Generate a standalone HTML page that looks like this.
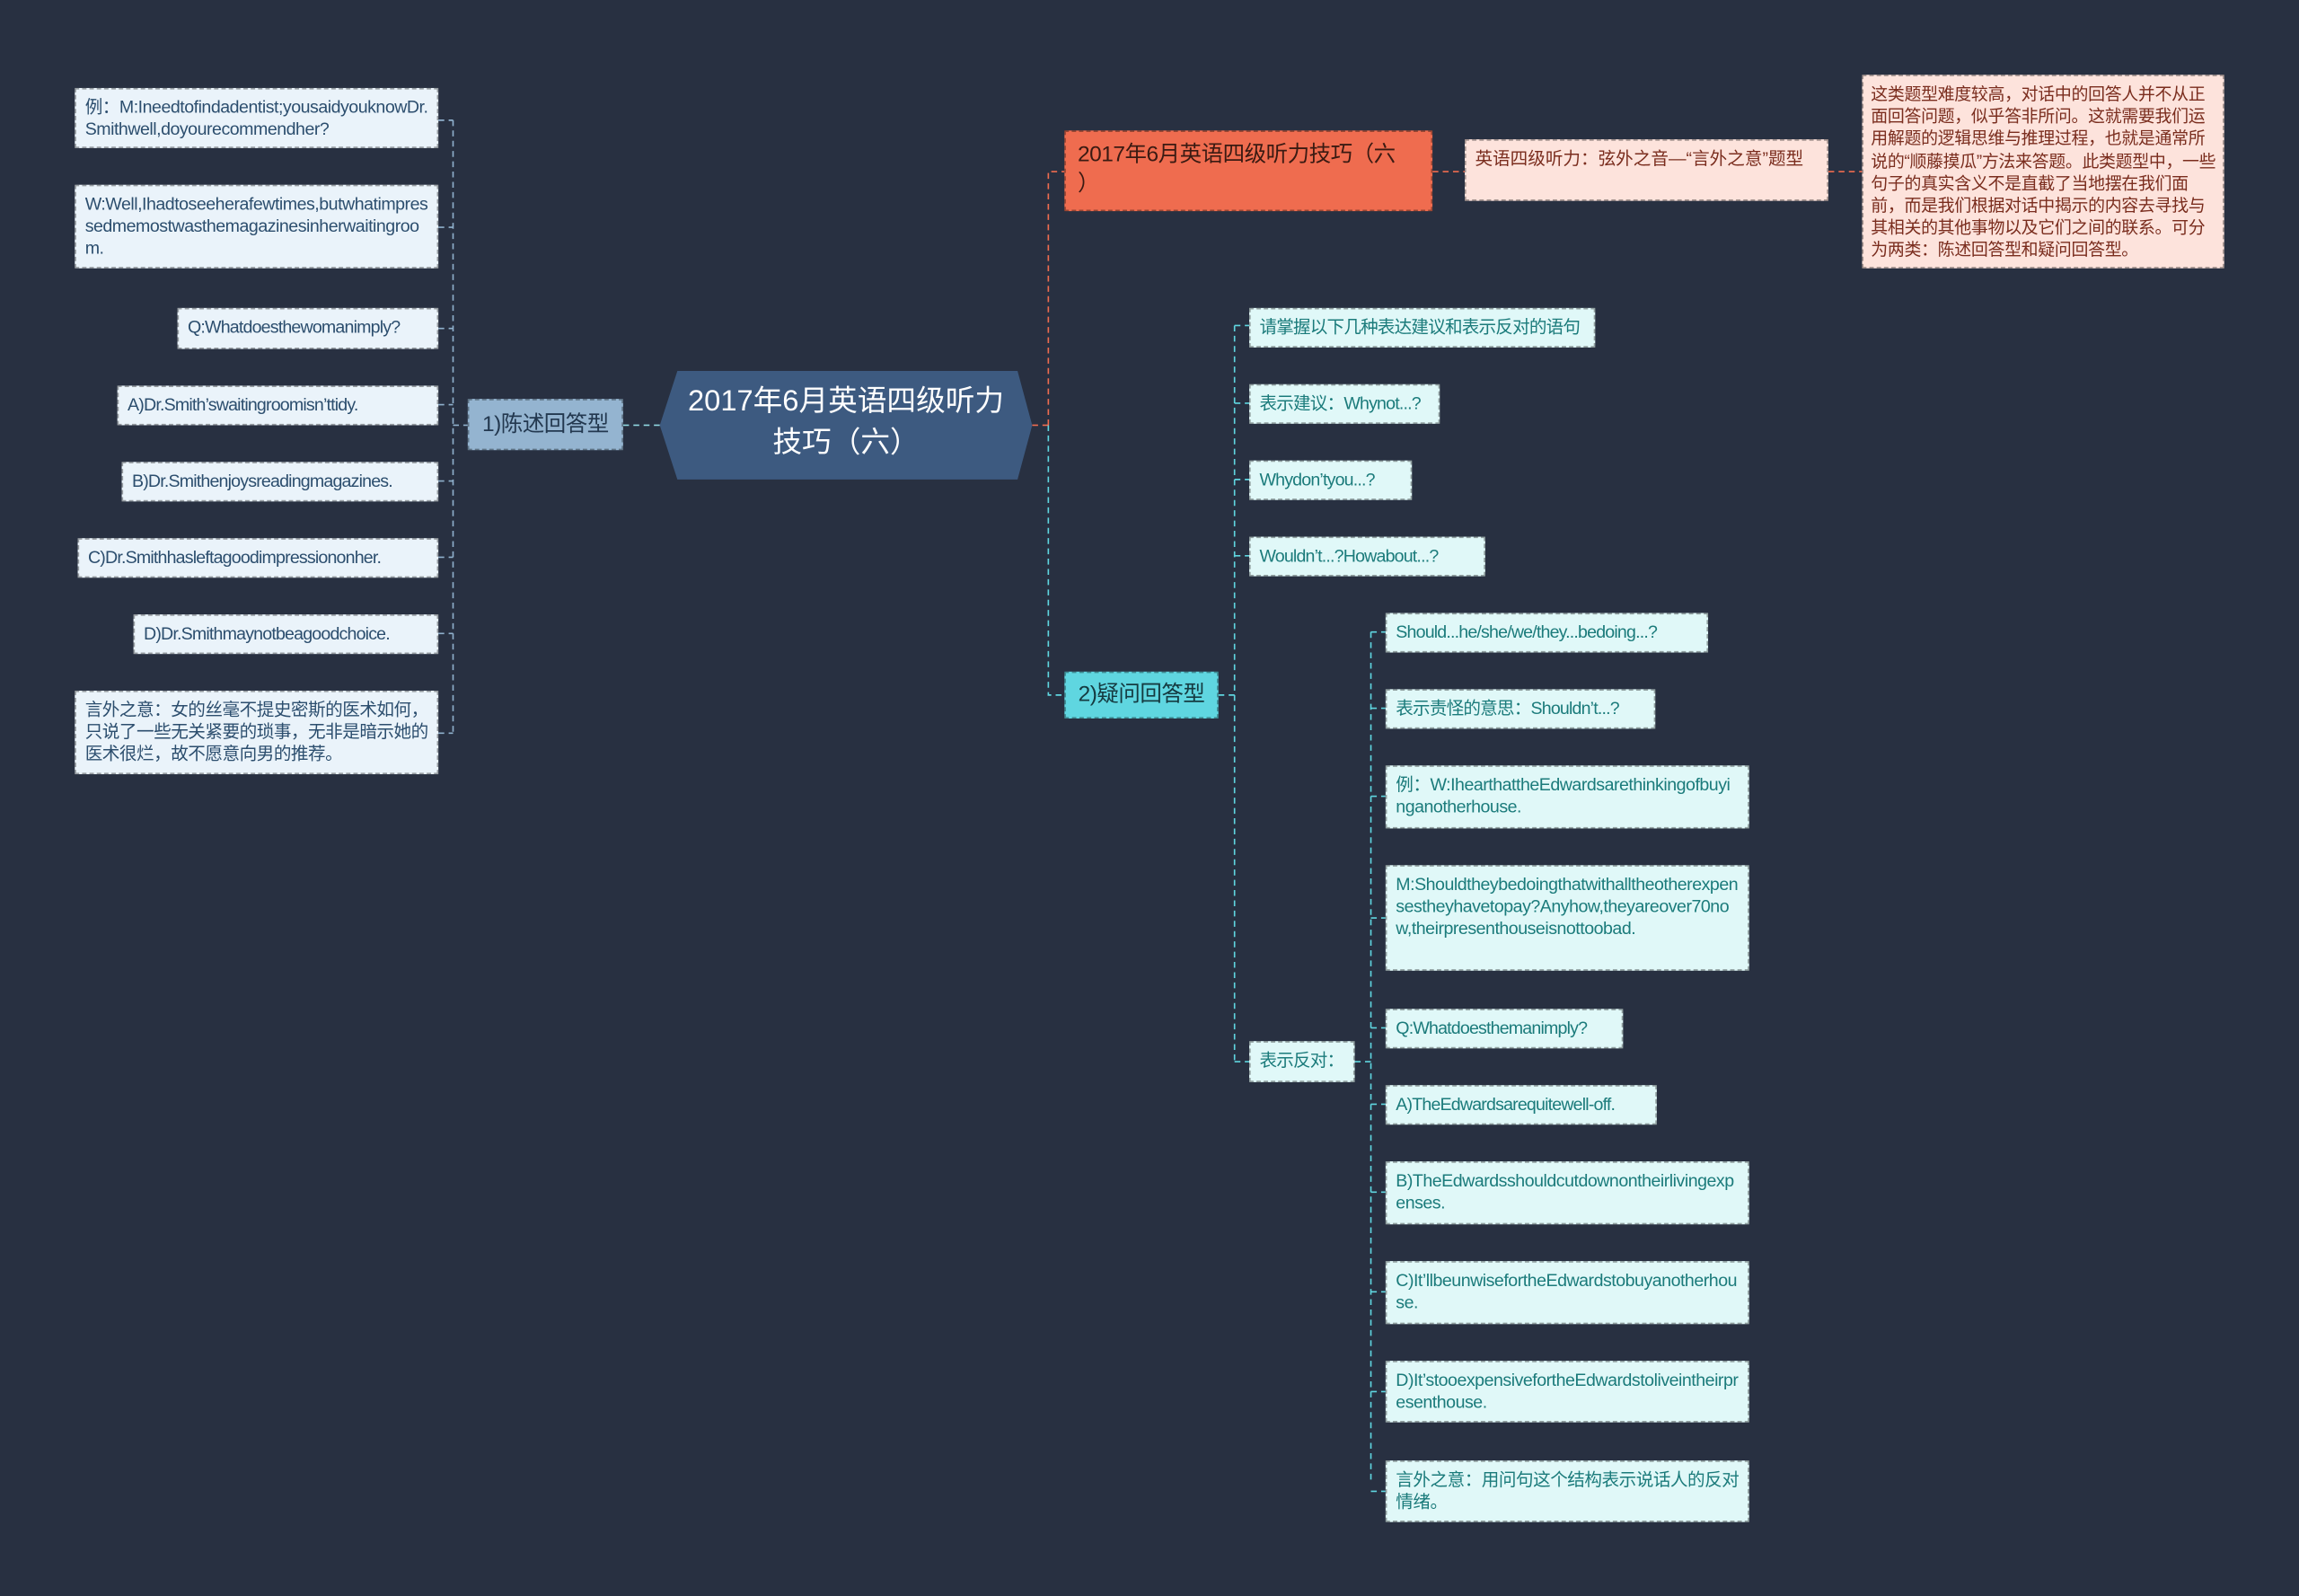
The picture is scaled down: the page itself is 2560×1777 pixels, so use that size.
<!DOCTYPE html>
<html><head><meta charset="utf-8"><style>
html,body{margin:0;padding:0;background:#283041;}
#w{position:absolute;left:0;top:0;width:1568px;height:1088px;transform:scale(1.63265);transform-origin:0 0;font-family:"Liberation Sans","Noto Sans CJK SC",sans-serif;}
.n{position:absolute;box-sizing:border-box;font-size:12px;line-height:15px;padding:5px 6px;border:1px dashed rgba(0,0,0,0.35);word-break:break-all;letter-spacing:-0.3px}
.s{white-space:nowrap;letter-spacing:-0.5px;padding:5px 4px 5px 6px}
.l{background:#eaf3fa;color:#2c4e6e}
.t{background:#e0f8f8;color:#1b7b7b}
.p{background:#fde3dc;color:#7a2d1e}
svg{position:absolute;left:0;top:0}
</style></head><body><div id="w">
<svg width="1568" height="1088" fill="none" stroke-dasharray="4,3" stroke-width="1">
<g stroke="#8fb0cc">
<path d="M309 82V500M299 82H309M299 155H309M299 224H309M299 276H309M299 328H309M299 380H309M299 432H309M299 500H309M309 290H319"/>
</g>
<path d="M425 290H450" stroke="#8fd6e0"/>
<path d="M704 290H715M715 290V117H726M977 117H999M1247 117H1270" stroke="#ef6c4f"/>
<path d="M715 290V474H726" stroke="#5fd6e0"/>
<g stroke="#5fd6e0">
<path d="M831 474H842M842 222V724M842 222H852M842 275H852M842 327H852M842 379H852M842 724H852M924 724H935M935 431V1010M935 431H945M935 483H945M935 543H945M935 626H945M935 701H945M935 753H945M935 813H945M935 881H945M935 949H945M935 1017H945"/>
</g>
</svg>
<svg width="1568" height="1088"><polygon points="462,253 694,253 704,290 694,327 462,327 450,290" fill="#3d5a80"/></svg>
<div style="position:absolute;left:450px;top:260px;width:254px;text-align:center;color:#fff;font-size:20px;line-height:28px">2017年6月英语四级听力<br>技巧（六）</div>
<div class="n" style="left:319px;top:272px;width:106px;height:35px;background:#94b4d0;color:#23384f;font-size:15px;line-height:23px;text-align:center;white-space:nowrap;padding:5px 2px">1)陈述回答型</div>
<div class="n l" style="left:51px;top:60px;width:248px;height:41px">例：M:Ineedtofindadentist;yousaidyouknowDr.Smithwell,doyourecommendher?</div>
<div class="n l" style="left:51px;top:126px;width:248px;height:57px">W:Well,Ihadtoseeherafewtimes,butwhatimpressedmemostwasthemagazinesinherwaitingroom.</div>
<div class="n l s" style="left:121px;top:210px;width:178px;height:28px">Q:Whatdoesthewomanimply?</div>
<div class="n l s" style="left:80px;top:263px;width:219px;height:27px">A)Dr.Smith’swaitingroomisn’ttidy.</div>
<div class="n l s" style="left:83px;top:315px;width:216px;height:27px">B)Dr.Smithenjoysreadingmagazines.</div>
<div class="n l s" style="left:53px;top:367px;width:246px;height:27px">C)Dr.Smithhasleftagoodimpressiononher.</div>
<div class="n l s" style="left:91px;top:419px;width:208px;height:27px">D)Dr.Smithmaynotbeagoodchoice.</div>
<div class="n l" style="left:51px;top:471px;width:248px;height:57px">言外之意：女的丝毫不提史密斯的医术如何，只说了一些无关紧要的琐事，无非是暗示她的医术很烂，故不愿意向男的推荐。</div>
<div class="n" style="left:726px;top:89px;width:251px;height:55px;background:#ef6c4f;color:#3a1a12;font-size:15px;line-height:20px;padding:6px 8px">2017年6月英语四级听力技巧（六<br>）</div>
<div class="n p" style="left:999px;top:95px;width:248px;height:42px;letter-spacing:0">英语四级听力：弦外之音—“言外之意”题型</div>
<div class="n p" style="left:1270px;top:51px;width:247px;height:132px;font-size:11.6px;line-height:15.2px;letter-spacing:-0.2px;padding:5px 4px 4px 5px">这类题型难度较高，对话中的回答人并不从正面回答问题，似乎答非所问。这就需要我们运用解题的逻辑思维与推理过程，也就是通常所说的“顺藤摸瓜”方法来答题。此类题型中，一些句子的真实含义不是直截了当地摆在我们面前，而是我们根据对话中揭示的内容去寻找与其相关的其他事物以及它们之间的联系。可分为两类：陈述回答型和疑问回答型。</div>
<div class="n" style="left:726px;top:458px;width:105px;height:32px;background:#5fd6e0;color:#153a40;font-size:15px;line-height:20px;text-align:center;white-space:nowrap;padding:5px 2px">2)疑问回答型</div>
<div class="n t s" style="left:852px;top:210px;width:236px;height:27px">请掌握以下几种表达建议和表示反对的语句</div>
<div class="n t s" style="left:852px;top:262px;width:130px;height:27px">表示建议：Whynot...?</div>
<div class="n t s" style="left:852px;top:314px;width:111px;height:27px">Whydon’tyou...?</div>
<div class="n t s" style="left:852px;top:366px;width:161px;height:27px">Wouldn’t...?Howabout...?</div>
<div class="n t s" style="left:852px;top:710px;width:72px;height:28px">表示反对：</div>
<div class="n t s" style="left:945px;top:418px;width:220px;height:27px">Should...he/she/we/they...bedoing...?</div>
<div class="n t s" style="left:945px;top:470px;width:184px;height:27px">表示责怪的意思：Shouldn’t...?</div>
<div class="n t" style="left:945px;top:522px;width:248px;height:43px">例：W:IhearthattheEdwardsarethinkingofbuyinganotherhouse.</div>
<div class="n t" style="left:945px;top:590px;width:248px;height:72px">M:Shouldtheybedoingthatwithalltheotherexpensestheyhavetopay?Anyhow,theyareover70now,theirpresenthouseisnottoobad.</div>
<div class="n t s" style="left:945px;top:688px;width:162px;height:27px">Q:Whatdoesthemanimply?</div>
<div class="n t s" style="left:945px;top:740px;width:185px;height:27px">A)TheEdwardsarequitewell-off.</div>
<div class="n t" style="left:945px;top:792px;width:248px;height:43px">B)TheEdwardsshouldcutdownontheirlivingexpenses.</div>
<div class="n t" style="left:945px;top:860px;width:248px;height:43px">C)It’llbeunwisefortheEdwardstobuyanotherhouse.</div>
<div class="n t" style="left:945px;top:928px;width:248px;height:42px">D)It’stooexpensivefortheEdwardstoliveintheirpresenthouse.</div>
<div class="n t" style="left:945px;top:996px;width:248px;height:42px">言外之意：用问句这个结构表示说话人的反对情绪。</div>
</div></body></html>
